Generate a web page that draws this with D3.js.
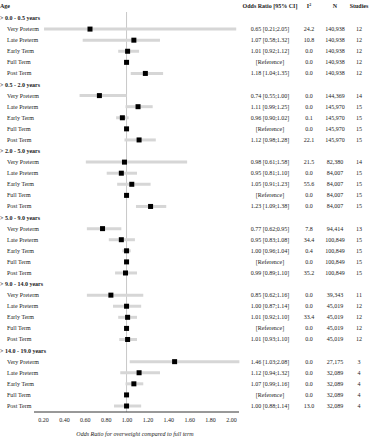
<!DOCTYPE html>
<html><head>
<meta charset="utf-8">
<script src="https://d3js.org/d3.v7.min.js"></script>
<style>
  body { margin: 0; background: #fff; }
  svg text { font-family: "Liberation Serif", "Times New Roman", serif; font-size: 6px; fill: #222; }
  text.bold { font-weight: bold; }
  line.ci { stroke: #d6d6d6; stroke-width: 3px; }
</style>
</head>
<body>
<svg id="chart" width="371" height="440"></svg>
<script>
// Age groups and the categories inside each
const ageGroups = ["> 0.0 - 0.5 years", "> 0.5 - 2.0 years", "> 2.0 - 5.0 years",
                   "> 5.0 - 9.0 years", "> 9.0 - 14.0 years", "> 14.0 - 19.0 years"];
const categories = ["Very Preterm", "Late Preterm", "Early Term", "Full Term", "Post Term"];

// one array per group, in the order of categories (null = reference)
const orValues = [
  [0.65, 1.07, 1.01, 1.00, 1.18],
  [0.74, 1.11, 0.96, 1.00, 1.12],
  [0.98, 0.95, 1.05, 1.00, 1.23],
  [0.77, 0.95, 1.00, 1.00, 0.99],
  [0.85, 1.00, 1.01, 1.00, 1.01],
  [1.46, 1.12, 1.07, 1.00, 1.00]
];
const ciLower = [
  [0.21, 0.58, 0.92, null, 1.04],
  [0.55, 0.99, 0.90, null, 0.98],
  [0.61, 0.81, 0.91, null, 1.09],
  [0.62, 0.83, 0.96, null, 0.89],
  [0.62, 0.87, 0.92, null, 0.93],
  [1.03, 0.94, 0.99, null, 0.88]
];
const ciUpper = [
  [2.05, 1.32, 1.12, null, 1.35],
  [1.00, 1.25, 1.02, null, 1.28],
  [1.58, 1.10, 1.23, null, 1.38],
  [0.95, 1.08, 1.04, null, 1.10],
  [1.16, 1.14, 1.10, null, 1.10],
  [2.08, 1.32, 1.16, null, 1.14]
];
const i2Values = [
  [24.2, 10.8, 0.0, 0.0, 0.0],
  [0.0, 0.0, 0.1, 0.0, 22.1],
  [21.5, 0.0, 55.6, 0.0, 0.0],
  [7.8, 34.4, 0.4, 0.0, 35.2],
  [0.0, 0.0, 33.4, 0.0, 0.0],
  [0.0, 0.0, 0.0, 0.0, 13.0]
];
const nValues = [
  [140938, 140938, 140938, 140938, 140938],
  [144369, 145970, 145970, 145970, 145970],
  [82380, 84007, 84007, 84007, 84007],
  [94414, 100849, 100849, 100849, 100849],
  [39343, 45019, 45019, 45019, 45019],
  [27175, 32089, 32089, 32089, 32089]
];
const studies = [
  [12, 12, 12, 12, 12],
  [14, 15, 15, 15, 15],
  [14, 15, 15, 15, 15],
  [13, 15, 15, 15, 15],
  [11, 12, 12, 12, 12],
  [3, 4, 4, 4, 4]
];
const tickValues = [0.2, 0.4, 0.6, 0.8, 1.0, 1.2, 1.4, 1.6, 1.8, 2.0];

// flatten to a row list: group header followed by its categories
const rows = [];
ageGroups.forEach((g, gi) => {
  rows.push({ id: "g" + gi, header: true, label: g });
  categories.forEach((c, ci) => {
    rows.push({
      id: "g" + gi + "c" + ci, header: false, label: c,
      or: orValues[gi][ci], lo: ciLower[gi][ci], hi: ciUpper[gi][ci],
      i2: i2Values[gi][ci], n: nValues[gi][ci], k: studies[gi][ci]
    });
  });
});

const svg = d3.select("#chart");
const y = d3.scalePoint().domain(rows.map(d => d.id)).range([18, 406]);
const x = d3.scaleLinear().domain([0.2, 2.0]).range([43, 231]);

const fmt2 = d3.format(".2f");
const fmt1 = d3.format(".1f");
const fmtN = d3.format(",");

// column positions
const col = { label: 0, or: 270, i2: 309, n: 335, k: 359 };

// header row
const head = svg.append("g").attr("transform", "translate(0,8)");
head.append("text").attr("class", "bold").attr("x", col.label).text("Age");
head.append("text").attr("class", "bold").attr("x", col.or).attr("text-anchor", "middle").text("Odds Ratio [95% CI]");
const i2h = head.append("text").attr("class", "bold").attr("x", col.i2).attr("text-anchor", "middle");
i2h.append("tspan").text("I");
i2h.append("tspan").attr("dy", -2.5).style("font-size", "4px").text("2");
head.append("text").attr("class", "bold").attr("x", col.n).attr("text-anchor", "middle").text("N");
head.append("text").attr("class", "bold").attr("x", col.k).attr("text-anchor", "middle").text("Studies");

// reference line at OR = 1
svg.append("line")
  .attr("x1", x(1)).attr("x2", x(1))
  .attr("y1", 12).attr("y2", 412)
  .attr("stroke", "#c8c8c8").attr("stroke-width", 1);

// row labels
svg.selectAll("text.rowlabel").data(rows).join("text")
  .attr("class", d => d.header ? "rowlabel bold" : "rowlabel")
  .attr("x", d => d.header ? col.label : col.label + 7)
  .attr("y", d => y(d.id) + 2)
  .text(d => d.label);

const dataRows = rows.filter(d => !d.header);

// confidence intervals
svg.selectAll("line.ci").data(dataRows.filter(d => d.lo !== null)).join("line")
  .attr("class", "ci")
  .attr("x1", d => x(d.lo)).attr("x2", d => x(d.hi))
  .attr("y1", d => y(d.id)).attr("y2", d => y(d.id));

// point estimates
svg.selectAll("rect.pt").data(dataRows).join("rect")
  .attr("class", "pt")
  .attr("x", d => x(d.or) - 2.5).attr("y", d => y(d.id) - 2.5)
  .attr("width", 5).attr("height", 5)
  .attr("fill", "#000");

// text columns
svg.selectAll("text.orcol").data(dataRows).join("text")
  .attr("class", "orcol").attr("text-anchor", "middle")
  .attr("x", col.or).attr("y", d => y(d.id) + 2)
  .text(d => d.lo === null ? "[Reference]" : `${fmt2(d.or)} [${fmt2(d.lo)};${fmt2(d.hi)}]`);
svg.selectAll("text.i2col").data(dataRows).join("text")
  .attr("class", "i2col").attr("text-anchor", "middle")
  .attr("x", col.i2).attr("y", d => y(d.id) + 2)
  .text(d => fmt1(d.i2));
svg.selectAll("text.ncol").data(dataRows).join("text")
  .attr("class", "ncol").attr("text-anchor", "middle")
  .attr("x", col.n).attr("y", d => y(d.id) + 2)
  .text(d => fmtN(d.n));
svg.selectAll("text.kcol").data(dataRows).join("text")
  .attr("class", "kcol").attr("text-anchor", "middle")
  .attr("x", col.k).attr("y", d => y(d.id) + 2)
  .text(d => d.k);

// x axis
const axis = svg.append("g").attr("transform", "translate(0,412)")
  .call(d3.axisBottom(x).tickValues(tickValues).tickFormat(fmt2).tickSize(0).tickPadding(6));
axis.select(".domain").remove();
axis.selectAll("text").style("font-family", null).style("font-size", null).attr("fill", "#222");
axis.append("line")
  .attr("x1", x(0.2) - 9).attr("x2", x(2.0) + 8)
  .attr("stroke", "#333").attr("stroke-width", 1);

svg.append("text")
  .attr("x", 135).attr("y", 436)
  .attr("text-anchor", "middle")
  .style("font-style", "italic")
  .text("Odds Ratio for overweight compared to full term");
</script>
</body></html>
